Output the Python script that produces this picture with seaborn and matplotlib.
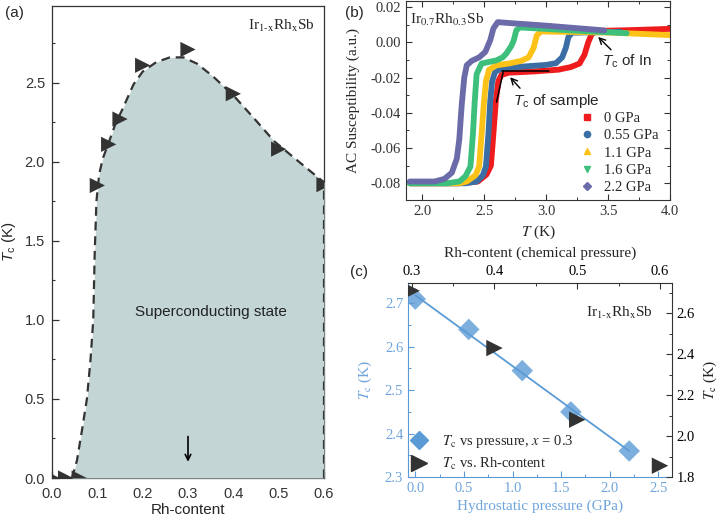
import numpy as np
import pandas as pd
import seaborn as sns
import matplotlib.pyplot as plt
from matplotlib.lines import Line2D
from matplotlib.ticker import MultipleLocator, FormatStrFormatter
from matplotlib.font_manager import FontProperties

sns.set_style("ticks")
plt.rcParams['font.family'] = ['Liberation Sans', 'DejaVu Sans']
plt.rcParams['mathtext.fontset'] = 'custom'
plt.rcParams['mathtext.rm'] = 'Liberation Sans'
plt.rcParams['mathtext.it'] = 'Liberation Sans:italic'
plt.rcParams['axes.unicode_minus'] = False
plt.rcParams['xtick.direction'] = 'in'
plt.rcParams['ytick.direction'] = 'in'

SERIF = ['Liberation Serif', 'DejaVu Serif']
BLUE = '#5b9bd5'
BLUE_TXT = '#6fa5dc'
DARK = '#333333'

# (a) Tc vs Rh-content
rh_x = [0.0, 0.03, 0.06, 0.1, 0.125, 0.15, 0.2, 0.3, 0.4, 0.5, 0.6]
rh_tc = [0.0, 0.0, 0.0, 1.85, 2.11, 2.27, 2.61, 2.71, 2.43, 2.08, 1.855]
# hand-drawn guide to the eye (dashed line bounding the shaded region)
guide_x = [0.044, 0.055, 0.066, 0.077, 0.085, 0.091, 0.094, 0.098, 0.104, 0.112, 0.125,
           0.140, 0.155, 0.180, 0.200, 0.230, 0.260, 0.290, 0.320, 0.355, 0.400, 0.444,
           0.490, 0.532, 0.570, 0.600, 0.600]
guide_y = [0.00, 0.11, 0.30, 0.50, 0.75, 1.00, 1.40, 1.75, 1.92, 2.02, 2.12,
           2.24, 2.33, 2.49, 2.57, 2.63, 2.66, 2.66, 2.62, 2.54, 2.42, 2.28,
           2.13, 2.03, 1.94, 1.87, 0.00]

# (b) AC susceptibility of Ir0.7Rh0.3Sb under pressure
p_labels = ['0 GPa', '0.55 GPa', '1.1 GPa', '1.6 GPa', '2.2 GPa']
t_0 = [1.90, 2.30, 2.45, 2.52, 2.555, 2.575, 2.595, 2.615, 2.64, 2.70, 2.90, 3.10, 3.20,
       3.27, 3.31, 3.34, 3.37, 3.42, 3.70, 4.05]
chi_0 = [-0.0800, -0.0800, -0.0790, -0.0750, -0.0700, -0.0520, -0.0330, -0.0220, -0.0185,
         -0.0172, -0.0165, -0.0155, -0.0140, -0.0120, -0.0070, 0.0000, 0.0050, 0.0065,
         0.0070, 0.0078]
t_055 = [1.90, 2.35, 2.44, 2.49, 2.515, 2.535, 2.55, 2.565, 2.59, 2.65, 2.80, 3.00, 3.08,
         3.13, 3.16, 3.18, 3.21, 3.60]
chi_055 = [-0.0800, -0.0800, -0.0790, -0.0755, -0.0705, -0.0520, -0.0330, -0.0220, -0.0165,
           -0.0148, -0.0138, -0.0128, -0.0118, -0.0085, -0.0030, 0.0030, 0.0055, 0.0060]
t_11 = [1.90, 2.30, 2.36, 2.43, 2.46, 2.48, 2.50, 2.515, 2.54, 2.60, 2.70, 2.80, 2.86,
        2.90, 2.925, 2.96, 3.50, 4.05]
chi_11 = [-0.0800, -0.0800, -0.0790, -0.0755, -0.0705, -0.0520, -0.0330, -0.0220, -0.0155,
          -0.0130, -0.0120, -0.0105, -0.0085, -0.0030, 0.0040, 0.0062, 0.0056, 0.0040]
t_16 = [1.90, 2.20, 2.30, 2.35, 2.39, 2.41, 2.425, 2.44, 2.48, 2.60, 2.65, 2.68, 2.72,
        2.74, 2.76, 2.79, 3.20, 3.65]
chi_16 = [-0.0800, -0.0800, -0.0790, -0.0760, -0.0705, -0.0520, -0.0330, -0.0180, -0.0120,
          -0.0102, -0.0085, -0.0063, -0.0020, 0.0013, 0.0069, 0.0085, 0.0068, 0.0052]
t_22 = [1.90, 2.10, 2.18, 2.24, 2.28, 2.30, 2.32, 2.34, 2.36, 2.40, 2.46, 2.51, 2.55,
        2.575, 2.61, 2.70, 3.00, 3.47]
chi_22 = [-0.0790, -0.0790, -0.0775, -0.0740, -0.0660, -0.0550, -0.0350, -0.0200, -0.0130,
          -0.0105, -0.0085, -0.0054, 0.0013, 0.0079, 0.0115, 0.0110, 0.0095, 0.0068]
p_colors = ['#ee1c1c', '#3a6ea5', '#fdc218', '#3cc07c', '#6b6ba9']
p_markers = ['s', 'o', '^', 'v', 'D']

# (c) Tc vs hydrostatic pressure for x = 0.3
pressure = [0.0, 0.55, 1.1, 1.6, 2.2]
tc_pressure = [2.71, 2.64, 2.545, 2.45, 2.36]

fig = plt.figure(figsize=(7.19, 5.19), dpi=100)

# ---------------- panel (a) ----------------
ax_a = fig.add_axes([52/719, 41/519, 272/719, 472/519])
ax_a.fill_between(guide_x, guide_y, 0, color='#c3d6d5', lw=0, zorder=3)
sns.lineplot(x=guide_x, y=guide_y, sort=False, estimator=None, ax=ax_a, color=DARK, lw=1.6,
             linestyle=(0, (4, 2.6)), zorder=4)
sns.scatterplot(x=rh_x, y=rh_tc, marker='>', s=120, color=DARK, edgecolor='none',
                ax=ax_a, zorder=5)
ax_a.set_xlim(0, 0.6)
ax_a.set_ylim(0, 2.985)
ax_a.xaxis.set_major_locator(MultipleLocator(0.1))
ax_a.xaxis.set_minor_locator(MultipleLocator(0.05))
ax_a.yaxis.set_major_locator(MultipleLocator(0.5))
ax_a.yaxis.set_minor_locator(MultipleLocator(0.25))
ax_a.xaxis.set_major_formatter(FormatStrFormatter('%.1f'))
ax_a.yaxis.set_major_formatter(FormatStrFormatter('%.1f'))
ax_a.tick_params(which='major', length=5, width=0.9, labelsize=10.5, colors=DARK)
ax_a.tick_params(axis='x', which='major', pad=6.5)
ax_a.tick_params(axis='y', which='major', pad=5)
ax_a.tick_params(which='minor', length=2.5, width=0.8, colors=DARK)
for s in ax_a.spines.values():
    s.set_color(DARK)
    s.set_linewidth(0.9)
ax_a.set_xlabel('Rh-content', fontsize=11, labelpad=1.5)
ax_a.set_ylabel(r'$T_\mathrm{c}$ (K)', fontsize=11, labelpad=4.5)
ax_a.text(0.35, 1.05, 'Superconducting state', ha='center', va='center', fontsize=11,
          color='#222222', zorder=6)
ax_a.text(0.58, 2.86, r'Ir$_{\mathrm{1\text{-}x}}$Rh$_\mathrm{x}$Sb', ha='right',
          va='center', fontsize=11, family=SERIF, math_fontfamily='stix', zorder=6)
ax_a.annotate('', xy=(0.3, 0.085), xytext=(0.3, 0.28),
              arrowprops=dict(arrowstyle='->', color='black', lw=1.2), zorder=6)
fig.text(5/719, 1 - 13/519, '(a)', fontsize=11, va='center')

# ---------------- panel (b) ----------------
ax_b = fig.add_axes([406/719, 319/519, 264/719, 199/519])
series_b = [(t_0, chi_0), (t_055, chi_055), (t_11, chi_11), (t_16, chi_16), (t_22, chi_22)]
for (tt, cc), col in zip(series_b, p_colors):
    sns.lineplot(x=tt, y=cc, sort=False, estimator=None, ax=ax_b, color=col, lw=4.2,
                 legend=False, solid_capstyle='round', solid_joinstyle='round')
# tangent construction for Tc of the sample
ax_b.plot([2.60, 2.655], [-0.034, -0.0165], color='black', lw=1.1, zorder=5)
ax_b.plot([2.645, 3.02], [-0.0165, -0.0165], color='black', lw=1.1, zorder=5)
ax_b.set_xlim(1.87, 4.0)
ax_b.set_ylim(-0.0895, 0.0235)
ax_b.xaxis.set_major_locator(MultipleLocator(0.5))
ax_b.xaxis.set_minor_locator(MultipleLocator(0.25))
ax_b.yaxis.set_major_locator(MultipleLocator(0.02))
ax_b.yaxis.set_minor_locator(MultipleLocator(0.01))
ax_b.xaxis.set_major_formatter(FormatStrFormatter('%.1f'))
ax_b.yaxis.set_major_formatter(FormatStrFormatter('%.2f'))
ax_b.tick_params(which='both', top=True, right=True, colors=DARK)
ax_b.tick_params(which='major', length=4, width=0.8, labelsize=10.5, labelfontfamily=SERIF)
ax_b.tick_params(which='minor', length=2, width=0.7)
for s in ax_b.spines.values():
    s.set_color(DARK)
    s.set_linewidth(0.8)
ax_b.set_xlabel('$T$ (K)', fontsize=11, family=SERIF, math_fontfamily='stix', labelpad=4)
ax_b.set_ylabel('AC Susceptibility (a.u.)', fontsize=11, family=SERIF, labelpad=8)
ax_b.text(1.90, 0.0125, r'Ir$_{0.7}$Rh$_{0.3}$Sb', ha='left', va='center', fontsize=11,
          family=SERIF, math_fontfamily='stix')
ax_b.annotate(r'$T_\mathrm{c}$ of sample', xy=(2.71, -0.0198), xytext=(2.73, -0.033),
              fontsize=11, ha='left', va='center',
              arrowprops=dict(arrowstyle='->', color='black', lw=1.0, shrinkA=0, shrinkB=0,
                              relpos=(0.12, 1.0)))
ax_b.annotate(r'$T_\mathrm{c}$ of In', xy=(3.42, 0.0031), xytext=(3.45, -0.011),
              fontsize=11, ha='left', va='center',
              arrowprops=dict(arrowstyle='->', color='black', lw=1.0, shrinkA=0, shrinkB=0,
                              relpos=(0.25, 1.0)))
handles_b = [Line2D([], [], ls='none', marker=m, color=c, markersize=4.5)
             for m, c in zip(p_markers, p_colors)]
ax_b.legend(handles_b, p_labels, loc='lower left', bbox_to_anchor=(0.63, 0.0),
            frameon=False, prop=dict(family=SERIF, size=10.5), handlelength=1.2,
            handletextpad=0.6, labelspacing=0.28, borderaxespad=0)
fig.text(345/719, 1 - 13/519, '(b)', fontsize=11, va='center')

# ---------------- panel (c) ----------------
rect_c = [408/719, 42/519, 264/719, 194/519]
ax_c = fig.add_axes(rect_c)
sns.regplot(x=pressure, y=tc_pressure, ci=None, marker='D', color=BLUE, ax=ax_c,
            scatter_kws=dict(s=120, edgecolor='none', zorder=3),
            line_kws=dict(lw=1.3, zorder=2))
ax_c.set_xlim(-0.075, 2.64)
ax_c.set_ylim(2.3, 2.747)
ax_c.xaxis.set_major_locator(MultipleLocator(0.5))
ax_c.xaxis.set_minor_locator(MultipleLocator(0.25))
ax_c.yaxis.set_major_locator(MultipleLocator(0.1))
ax_c.yaxis.set_minor_locator(MultipleLocator(0.05))
ax_c.xaxis.set_major_formatter(FormatStrFormatter('%.1f'))
ax_c.yaxis.set_major_formatter(FormatStrFormatter('%.1f'))
ax_c.tick_params(which='both', colors=BLUE, labelcolor=BLUE_TXT)
ax_c.tick_params(which='major', length=4, width=0.8, labelsize=10.5, labelfontfamily=SERIF)
ax_c.tick_params(which='minor', length=2, width=0.7)
ax_c.spines['left'].set_color(BLUE)
ax_c.spines['bottom'].set_color(BLUE)
ax_c.spines['top'].set_visible(False)
ax_c.spines['right'].set_visible(False)
ax_c.set_xlabel('Hydrostatic pressure (GPa)', fontsize=11, family=SERIF, color=BLUE_TXT,
                labelpad=3)
ax_c.set_ylabel(r'$T_\mathrm{c}$ (K)', fontsize=11, family=SERIF, color=BLUE_TXT,
                math_fontfamily='stix', labelpad=8)

ax_c2 = fig.add_axes(rect_c)
ax_c2.patch.set_visible(False)
sns.scatterplot(x=rh_x[-4:], y=rh_tc[-4:], marker='>', s=140, color=DARK, edgecolor='none',
                ax=ax_c2, zorder=4)
ax_c2.set_xlim(0.2955, 0.6145)
ax_c2.set_ylim(1.8, 2.748)
ax_c2.xaxis.tick_top()
ax_c2.xaxis.set_label_position('top')
ax_c2.yaxis.tick_right()
ax_c2.yaxis.set_label_position('right')
ax_c2.xaxis.set_major_locator(MultipleLocator(0.1))
ax_c2.xaxis.set_minor_locator(MultipleLocator(0.05))
ax_c2.yaxis.set_major_locator(MultipleLocator(0.2))
ax_c2.yaxis.set_minor_locator(MultipleLocator(0.1))
ax_c2.xaxis.set_major_formatter(FormatStrFormatter('%.1f'))
ax_c2.yaxis.set_major_formatter(FormatStrFormatter('%.1f'))
ax_c2.tick_params(which='both', colors=DARK, labelcolor='black')
ax_c2.tick_params(which='major', length=4, width=0.8, labelsize=10.5, labelfontfamily=SERIF)
ax_c2.tick_params(which='minor', length=2, width=0.7)
ax_c2.spines['left'].set_visible(False)
ax_c2.spines['bottom'].set_visible(False)
ax_c2.spines['top'].set_color(DARK)
ax_c2.spines['right'].set_color(DARK)
ax_c2.set_xlabel('Rh-content (chemical pressure)', fontsize=11, family=SERIF, labelpad=6)
ax_c2.set_ylabel(r'$T_\mathrm{c}$ (K)', fontsize=11, family=SERIF, math_fontfamily='stix',
                 labelpad=4.5)
ax_c2.text(0.928, 0.845, r'Ir$_{\mathrm{1\text{-}x}}$Rh$_\mathrm{x}$Sb', transform=ax_c2.transAxes,
           ha='right', va='center', fontsize=11, family=SERIF, math_fontfamily='stix')
handles_c = [Line2D([], [], ls='none', marker='D', color=BLUE, markersize=9.5),
             Line2D([], [], ls='none', marker='>', color=DARK, markersize=11)]
labels_c = [r'$T_\mathrm{c}$ vs pressure, $x$ = 0.3', r'$T_\mathrm{c}$ vs. Rh-content']
ax_c2.legend(handles_c, labels_c, loc='lower left', bbox_to_anchor=(-0.027, -0.02),
             frameon=False, prop=FontProperties(family=SERIF, size=10.5, math_fontfamily='stix'),
             handlelength=1.3, handletextpad=0.9, labelspacing=0.42, borderaxespad=0.2)
fig.text(350/719, 1 - 272/519, '(c)', fontsize=11, va='center')

fig.savefig('out.png', dpi=100)
